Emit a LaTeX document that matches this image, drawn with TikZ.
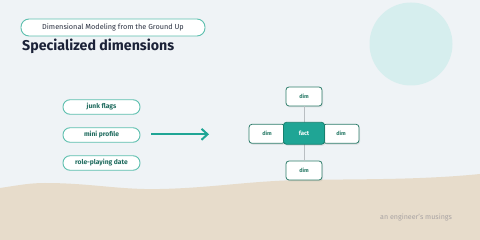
\documentclass[tikz,border=0pt]{standalone}
\usepackage{fontspec}
\setmainfont{Fira Sans}
\usetikzlibrary{shadows,arrows.meta}
\definecolor{bg}{HTML}{EFF3F6}
\definecolor{circ}{HTML}{D6EEEE}
\definecolor{sand}{HTML}{E7DCCB}
\definecolor{pillline}{HTML}{5CBFAE}
\definecolor{pilltext}{HTML}{1F6B5E}
\definecolor{dimline}{HTML}{2E7D6B}
\definecolor{teal}{HTML}{1FA595}
\definecolor{tealdark}{HTML}{17806F}
\definecolor{navy}{HTML}{1B2238}
\definecolor{hdrtext}{HTML}{2A3040}
\definecolor{foot}{HTML}{A8A3A3}
\definecolor{stem}{HTML}{B9BEC2}
\tikzset{
  pill/.style={draw=pillline, line width=0.9pt, fill=white, rounded corners=7pt,
    minimum width=77pt, minimum height=14.5pt, inner sep=0pt,
    font=\fontsize{6.7}{7}\selectfont\bfseries, text=pilltext},
  dimbox/.style={draw=dimline, line width=0.8pt, fill=white, rounded corners=3pt,
    minimum width=36pt, minimum height=19pt, inner sep=0pt,
    font=\fontsize{5.5}{6}\selectfont\bfseries, text=dimline,
    drop shadow={opacity=0.15, shadow xshift=1pt, shadow yshift=-1.5pt}},
  factbox/.style={draw=tealdark, line width=0.8pt, fill=teal, rounded corners=3pt,
    minimum width=41pt, minimum height=22pt, inner sep=0pt,
    font=\fontsize{6}{7}\selectfont\bfseries, text=white,
    drop shadow={opacity=0.15, shadow xshift=1pt, shadow yshift=-1.5pt}},
}
\begin{document}
\begin{tikzpicture}[x=1pt,y=-1pt]
\useasboundingbox (0,0) rectangle (480,240);
\fill[bg] (0,0) rectangle (480,240);
\fill[circ] (411,44) circle (41.5);
\fill[sand] (0,188) .. controls (20,185) and (30,183) .. (45,183)
  .. controls (90,183) and (120,190) .. (160,189)
  .. controls (210,188) and (250,181) .. (300,180)
  .. controls (360,179) and (420,180) .. (480,174)
  -- (480,240) -- (0,240) -- cycle;
% header
\node[draw=pillline, line width=0.9pt, fill=white, rounded corners=8pt,
  minimum width=184pt, minimum height=17pt, inner sep=0pt,
  font=\fontsize{7.3}{8}\selectfont\mdseries, text=hdrtext] (hdr) at (113,27.5)
  {Dimensional Modeling from the Ground Up};
\node[anchor=base west, inner sep=0pt, font=\fontsize{14.2}{16}\selectfont\bfseries,
  text=navy] (title) at (22,51) {Specialized dimensions};
% pills
\node[pill] (p1) at (101.5,107) {junk flags};
\node[pill] (p2) at (101.5,135) {mini profile};
\node[pill] (p3) at (101.5,163) {role-playing date};
\coordinate (a1) at (151,134.3);
\coordinate (a2) at (209,134.3);
\draw[teal, line width=2.3pt, -{Straight Barb[length=6pt,width=11pt,line width=2pt]}] (a1) -- (a2);
% cluster
\coordinate (c) at (304,133.3);
\node[dimbox] (dt) at (304,96.5) {dim};
\node[dimbox] (db) at (304,170.5) {dim};
\draw[stem, line width=0.8pt] (dt.south) -- (db.north);
\node[dimbox] (dl) at (267,133.8) {dim};
\node[dimbox] (dr) at (341,133.8) {dim};
\node[factbox] (f) at (c) {fact};
% footer
\node[anchor=base west, inner sep=0pt, font=\fontsize{7.1}{8}\selectfont\mdseries,
  text=foot] (ft) at (380,220) {an engineer's musings};
\end{tikzpicture}
\end{document}
